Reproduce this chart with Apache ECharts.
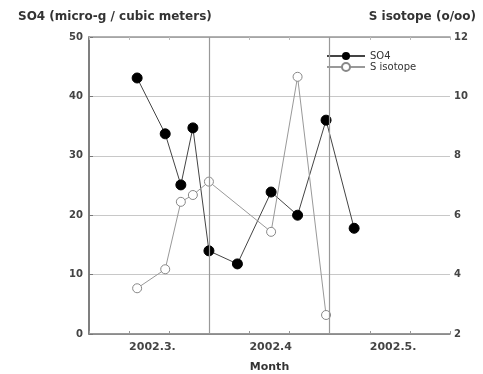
<!DOCTYPE html>
<html>
<head>
<meta charset="utf-8">
<script src="https://cdn.jsdelivr.net/npm/echarts@6/dist/echarts.min.js"></script>
<style>
  html, body { margin: 0; padding: 0; background: #fff; }
  #chart { width: 483px; height: 374px; }
</style>
</head>
<body>
<div id="chart"></div>
<script>
// Sampling positions along the month axis (1 unit = one minor tick, about 10 days)
const sampleDays = [1.20, 1.90, 2.29, 2.59, 2.99, 3.70, 4.54, 5.20, 5.91, 6.61];
// SO4 concentration, micro-g / cubic meters
const so4Values = [43.1, 33.7, 25.1, 34.7, 14.0, 11.8, 23.9, 20.0, 36.0, 17.8];
// S isotope ratio (o/oo); null where no isotope sample was taken
const sIsotopeValues = [3.54, 4.18, 6.45, 6.68, 7.13, null, 5.44, 10.66, 2.64, null];
// Month labels placed on the minor ticks
const monthTicks = { 1: '2002.3.', 4: '2002.4', 7: '2002.5.' };
// Month boundary lines
const monthBoundaries = [3, 6];

const FONT = 'DejaVu Sans, Verdana, sans-serif';
const TEXT = '#333';

const so4Data = sampleDays.map((d, i) => [d, so4Values[i]]);
const isoData = sampleDays
  .map((d, i) => [d, sIsotopeValues[i]])
  .filter(p => p[1] !== null);

const chart = echarts.init(document.getElementById('chart'));
chart.setOption({
  animation: false,
  backgroundColor: '#fff',
  textStyle: { fontFamily: FONT },
  title: [
    {
      text: 'SO4 (micro-g / cubic meters)',
      left: 13, top: 6,
      textStyle: { fontSize: 12, fontWeight: 'bold', color: TEXT, fontFamily: FONT }
    },
    {
      text: 'S isotope (o/oo)',
      right: 2, top: 6,
      textStyle: { fontSize: 12, fontWeight: 'bold', color: TEXT, fontFamily: FONT }
    }
  ],
  legend: {
    orient: 'vertical',
    left: 326, top: 51, padding: 0,
    itemWidth: 38, itemHeight: 10, itemGap: 1,
    textStyle: { fontSize: 10, color: TEXT, fontFamily: FONT },
    data: ['SO4', 'S isotope']
  },
  grid: { left: 89, right: 33, top: 37, bottom: 40, outerBoundsMode: 'none' },
  xAxis: [
    {
      type: 'value', min: 0, max: 9, interval: 1,
      name: 'Month', nameLocation: 'middle', nameGap: 28,
      nameTextStyle: { fontSize: 11, fontWeight: 'bold', color: TEXT, fontFamily: FONT },
      axisLine: { lineStyle: { color: '#777', width: 1.5 } },
      axisTick: { inside: true, length: 3, lineStyle: { color: '#999' } },
      splitLine: { show: false },
      axisLabel: {
        fontSize: 11, fontWeight: 'bold', color: '#444', align: 'left', margin: 8,
        fontFamily: FONT,
        formatter: v => monthTicks[v] || ''
      }
    },
    {
      type: 'value', position: 'top', min: 0, max: 9, interval: 1,
      axisLine: { lineStyle: { color: '#999', width: 1.5 } },
      axisTick: { inside: true, length: 3, lineStyle: { color: '#bbb' } },
      axisLabel: { show: false },
      splitLine: { show: false }
    }
  ],
  yAxis: [
    {
      type: 'value', min: 0, max: 50, interval: 10,
      axisLine: { show: true, lineStyle: { color: '#777', width: 1.5 } },
      axisTick: { show: true, inside: true, length: 3, lineStyle: { color: '#999' } },
      axisLabel: { fontSize: 10, fontWeight: 'bold', color: '#444', margin: 6, fontFamily: FONT },
      splitLine: { show: true, lineStyle: { color: '#c8c8c8', width: 1 } }
    },
    {
      type: 'value', min: 2, max: 12, interval: 2,
      axisLine: { show: true, lineStyle: { color: '#777', width: 1.5 } },
      axisTick: { show: true, inside: false, length: 4, lineStyle: { color: '#777' } },
      axisLabel: { fontSize: 10, fontWeight: 'bold', color: '#444', margin: 4, fontFamily: FONT },
      splitLine: { show: false }
    }
  ],
  series: [
    {
      name: 'SO4', type: 'line', xAxisIndex: 0, yAxisIndex: 0,
      data: so4Data,
      symbol: 'circle', symbolSize: 10,
      itemStyle: { color: '#000', borderColor: '#000' },
      lineStyle: { color: '#444', width: 1 },
      z: 3,
      markLine: {
        silent: true, symbol: 'none', label: { show: false },
        lineStyle: { color: '#999', width: 1.2, type: 'solid' },
        data: monthBoundaries.map(x => ({ xAxis: x }))
      }
    },
    {
      name: 'S isotope', type: 'line', xAxisIndex: 0, yAxisIndex: 1,
      data: isoData,
      symbol: 'circle', symbolSize: 9,
      itemStyle: { color: '#fff', borderColor: '#888', borderWidth: 1 },
      lineStyle: { color: '#999', width: 1 },
      z: 4
    }
  ]
});
</script>
</body>
</html>
